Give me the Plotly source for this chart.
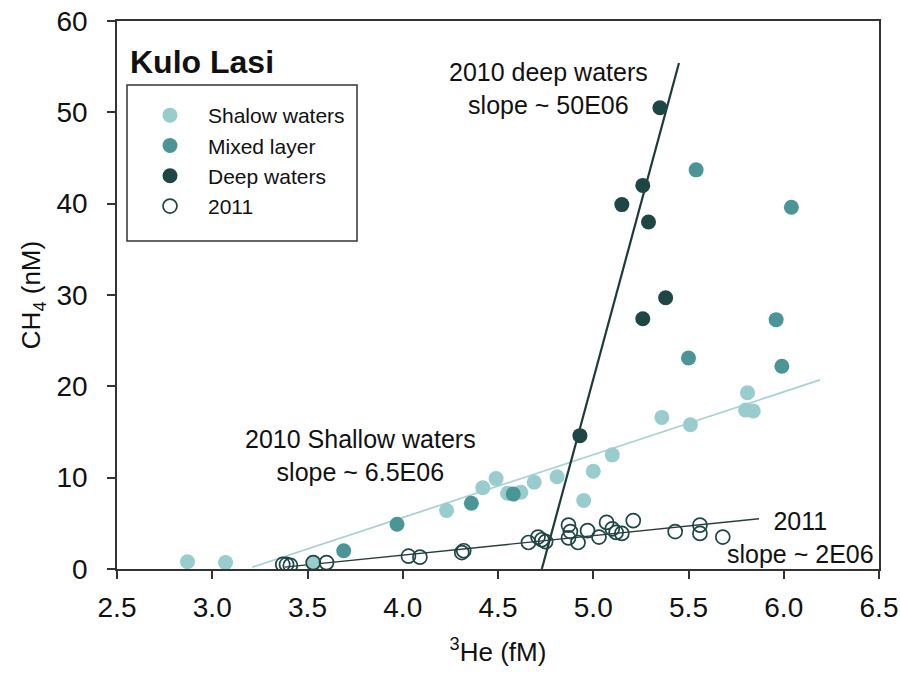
import plotly.graph_objects as go

# 3He vs CH4 measurements, Kulo Lasi
shallow_x = [2.87, 3.07, 3.53, 4.23, 4.42, 4.49, 4.55, 4.62, 4.69, 4.81, 4.95, 5.00, 5.10, 5.36, 5.51, 5.81, 5.80, 5.84]
shallow_y = [0.8, 0.7, 0.6, 6.4, 8.9, 9.9, 8.3, 8.4, 9.5, 10.1, 7.5, 10.7, 12.5, 16.6, 15.8, 19.3, 17.4, 17.3]

mixed_x = [3.69, 3.97, 4.36, 4.58, 5.50, 5.54, 5.96, 5.99, 6.04]
mixed_y = [2.0, 4.9, 7.2, 8.2, 23.1, 43.7, 27.3, 22.2, 39.6]

deep_x = [4.93, 5.15, 5.26, 5.26, 5.29, 5.35, 5.38]
deep_y = [14.6, 39.9, 42.0, 27.4, 38.0, 50.5, 29.7]

y2011_x = [3.37, 3.39, 3.41, 3.53, 3.60, 4.03, 4.09, 4.31, 4.32, 4.66, 4.71, 4.73, 4.75,
           4.87, 4.88, 4.87, 4.92, 4.97, 5.03, 5.07, 5.10, 5.12, 5.15, 5.21, 5.43, 5.56, 5.56, 5.68]
y2011_y = [0.5, 0.5, 0.4, 0.7, 0.7, 1.4, 1.3, 1.8, 2.0, 2.9, 3.5, 3.2, 3.0,
           4.8, 4.1, 3.4, 2.9, 4.2, 3.5, 5.1, 4.4, 4.0, 3.9, 5.3, 4.1, 4.8, 3.9, 3.5]

# Regression line end points
shallow_fit_x = [3.21, 6.19]
shallow_fit_y = [0.2, 20.7]
deep_fit_x = [4.73, 5.45]
deep_fit_y = [0.0, 55.4]
fit_2011_x = [3.38, 5.87]
fit_2011_y = [0.2, 5.5]

x_ticks = [2.5, 3.0, 3.5, 4.0, 4.5, 5.0, 5.5, 6.0, 6.5]
y_ticks = [0, 10, 20, 30, 40, 50, 60]

C_SHALLOW = "#98cccd"
C_MIXED = "#4b9597"
C_DEEP = "#1d4645"
FONT = "Arial, Liberation Sans, sans-serif"

W, H = 900, 674
ML, MR, MT, MB = 117, 21, 21, 105
PW, PH = W - ML - MR, H - MT - MB


def px(x):
    return (x - ML) / PW


def py(y):
    return (H - MB - y) / PH


fig = go.Figure()

fig.add_trace(go.Scatter(x=shallow_fit_x, y=shallow_fit_y, mode="lines",
                         line=dict(color="#a9d2d2", width=1.8), showlegend=False, hoverinfo="skip"))
fig.add_trace(go.Scatter(x=fit_2011_x, y=fit_2011_y, mode="lines",
                         line=dict(color="#2b3b3b", width=1.4), showlegend=False, hoverinfo="skip"))
fig.add_trace(go.Scatter(x=deep_fit_x, y=deep_fit_y, mode="lines",
                         line=dict(color="#1f3a3a", width=2.2), showlegend=False, hoverinfo="skip"))

fig.add_trace(go.Scatter(x=shallow_x, y=shallow_y, mode="markers", name="Shalow waters",
                         legendgroup="a",
                         marker=dict(size=15, color=C_SHALLOW, line=dict(width=0))))
fig.add_trace(go.Scatter(x=mixed_x, y=mixed_y, mode="markers", name="Mixed layer",
                         legendgroup="b",
                         marker=dict(size=15, color=C_MIXED, line=dict(width=0))))
fig.add_trace(go.Scatter(x=deep_x, y=deep_y, mode="markers", name="Deep waters",
                         legendgroup="c",
                         marker=dict(size=15, color=C_DEEP, line=dict(width=0))))
fig.add_trace(go.Scatter(x=y2011_x, y=y2011_y, mode="markers", name="2011",
                         legendgroup="d",
                         marker=dict(size=14, color="rgba(255,255,255,0)", symbol="circle",
                                     line=dict(width=1.7, color=C_DEEP))))

axis_common = dict(
    showgrid=False, zeroline=False, showline=True, linecolor="#333", linewidth=1.6,
    mirror=True, ticks="outside", ticklen=8, tickwidth=1.5, tickcolor="#333",
    tickfont=dict(family=FONT, size=28, color="#111"),
)

fig.update_xaxes(range=[2.5, 6.5], tickvals=x_ticks, ticktext=[f"{v:.1f}" for v in x_ticks],
                 ticklabelstandoff=5,
                 title=dict(text="<sup>3</sup>He (fM)", font=dict(family=FONT, size=26, color="#111"),
                            standoff=20),
                 **axis_common)
fig.update_yaxes(range=[0, 60], tickvals=y_ticks, ticklabelstandoff=14,
                 title=dict(text="CH<sub>4</sub> (nM)", font=dict(family=FONT, size=26, color="#111"),
                            standoff=8),
                 **axis_common)

# Legend frame
fig.add_shape(type="rect", xref="paper", yref="paper",
              x0=px(127), x1=px(357), y0=py(241), y1=py(85),
              line=dict(color="#333", width=1.5), fillcolor="white", layer="below")

fig.add_annotation(text="<b>Kulo Lasi</b>", xref="paper", yref="paper",
                   x=px(128), y=py(62), xanchor="left", yanchor="middle", showarrow=False,
                   font=dict(family=FONT, size=32, color="#111"))

ann_font = dict(family=FONT, size=25, color="#111")
fig.add_annotation(text="2010 deep waters<br>slope ~ 50E06", xref="paper", yref="paper",
                   x=px(548), y=py(88), xanchor="center", yanchor="middle",
                   showarrow=False, align="center", font=ann_font)
fig.add_annotation(text="2010 Shallow waters<br>slope ~ 6.5E06", xref="paper", yref="paper",
                   x=px(360), y=py(455), xanchor="center", yanchor="middle",
                   showarrow=False, align="center", font=ann_font)
fig.add_annotation(text="2011<br>slope ~ 2E06", xref="paper", yref="paper",
                   x=px(800), y=py(537), xanchor="center", yanchor="middle",
                   showarrow=False, align="center", font=ann_font)

fig.update_layout(
    width=W, height=H,
    margin=dict(l=ML, r=MR, t=MT, b=MB, autoexpand=False),
    paper_bgcolor="white", plot_bgcolor="white",
    showlegend=True,
    legend=dict(x=px(132), y=py(95), xanchor="left", yanchor="top",
                bgcolor="rgba(0,0,0,0)", borderwidth=0,
                font=dict(family=FONT, size=21, color="#111"),
                itemwidth=66, tracegroupgap=0, traceorder="grouped"),
)

fig.write_html("out.html")
